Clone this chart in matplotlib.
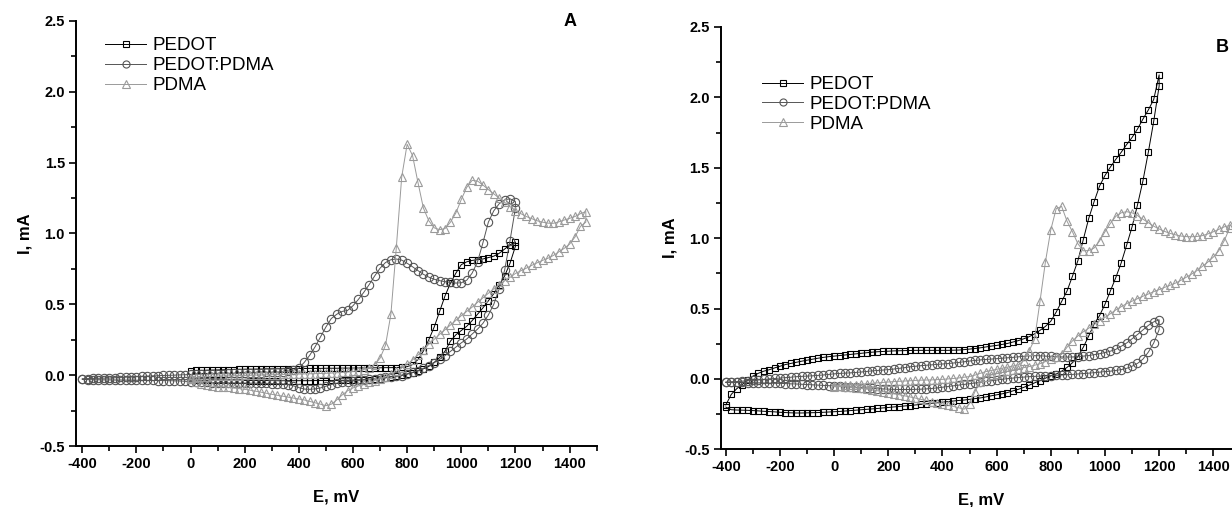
import matplotlib
matplotlib.use("Agg")
from matplotlib import pyplot as plt
from matplotlib.ticker import MultipleLocator, FormatStrFormatter

plt.rcParams['font.family'] = ['Liberation Sans', 'DejaVu Sans']
plt.rcParams['axes.unicode_minus'] = False

# potential grid of the sweeps (mV)
E_SCAN = [-400, -380, -360, -340, -320, -300, -280, -260, -240, -220,
          -200, -180, -160, -140, -120, -100, -80, -60, -40, -20,
          0, 20, 40, 60, 80, 100, 120, 140, 160, 180,
          200, 220, 240, 260, 280, 300, 320, 340, 360, 380,
          400, 420, 440, 460, 480, 500, 520, 540, 560, 580,
          600, 620, 640, 660, 680, 700, 720, 740, 760, 780,
          800, 820, 840, 860, 880, 900, 920, 940, 960, 980,
          1000, 1020, 1040, 1060, 1080, 1100, 1120, 1140, 1160, 1180,
          1200]
E_PDMA = [0, 20, 40, 60, 80, 100, 120, 140, 160, 180,
          200, 220, 240, 260, 280, 300, 320, 340, 360, 380,
          400, 420, 440, 460, 480, 500, 520, 540, 560, 580,
          600, 620, 640, 660, 680, 700, 720, 740, 760, 780,
          800, 820, 840, 860, 880, 900, 920, 940, 960, 980,
          1000, 1020, 1040, 1060, 1080, 1100, 1120, 1140, 1160, 1180,
          1200, 1220, 1240, 1260, 1280, 1300, 1320, 1340, 1360, 1380,
          1400, 1420, 1440, 1460]
E_PEDOT_A = E_SCAN[20:]   # PEDOT film in A was swept 0 .. 1200 mV

# ---- panel A, current (mA); fwd = anodic sweep, rev = cathodic sweep (listed by rising E)
A_pedot_fwd = [-0.035, -0.035, -0.036, -0.036, -0.036, -0.036, -0.037, -0.037, -0.037, -0.037,
               -0.037, -0.038, -0.038, -0.038, -0.038, -0.038, -0.039, -0.039, -0.039, -0.039,
               -0.039, -0.039, -0.039, -0.038, -0.038, -0.038, -0.037, -0.037, -0.036, -0.036,
               -0.035, -0.034, -0.033, -0.031, -0.028, -0.024, -0.019, -0.010, -0.005, 0.000,
               0.008, 0.018, 0.030, 0.045, 0.062, 0.090, 0.125, 0.170, 0.240, 0.285,
               0.315, 0.345, 0.385, 0.430, 0.475, 0.525, 0.575, 0.635, 0.700, 0.790,
               0.910]
A_pedot_rev = [0.032, 0.033, 0.034, 0.035, 0.036, 0.037, 0.038, 0.039, 0.040, 0.041,
               0.042, 0.042, 0.043, 0.043, 0.044, 0.044, 0.045, 0.045, 0.046, 0.046,
               0.047, 0.047, 0.048, 0.048, 0.048, 0.049, 0.049, 0.049, 0.050, 0.050,
               0.050, 0.051, 0.051, 0.051, 0.052, 0.052, 0.053, 0.053, 0.054, 0.056,
               0.060, 0.075, 0.110, 0.170, 0.250, 0.340, 0.450, 0.560, 0.650, 0.720,
               0.780, 0.800, 0.810, 0.815, 0.820, 0.830, 0.840, 0.860, 0.890, 0.920,
               0.940]
A_mix_fwd = [-0.025, -0.024, -0.023, -0.022, -0.021, -0.020, -0.018, -0.016, -0.014, -0.012,
             -0.010, -0.008, -0.007, -0.005, -0.004, -0.002, -0.001, 0.000, 0.002, 0.003,
             0.005, 0.006, 0.007, 0.008, 0.009, 0.010, 0.011, 0.012, 0.013, 0.014,
             0.015, 0.016, 0.017, 0.018, 0.019, 0.020, 0.022, 0.024, 0.028, 0.035,
             0.050, 0.090, 0.140, 0.200, 0.270, 0.340, 0.400, 0.430, 0.450, 0.457,
             0.490, 0.535, 0.585, 0.640, 0.700, 0.755, 0.795, 0.815, 0.820, 0.812,
             0.790, 0.765, 0.738, 0.712, 0.692, 0.677, 0.667, 0.660, 0.655, 0.650,
             0.652, 0.670, 0.720, 0.800, 0.935, 1.080, 1.160, 1.210, 1.238, 1.245,
             1.225]
A_mix_rev = [-0.030, -0.031, -0.032, -0.032, -0.033, -0.033, -0.034, -0.034, -0.035, -0.035,
             -0.036, -0.036, -0.037, -0.037, -0.038, -0.038, -0.039, -0.040, -0.041, -0.043,
             -0.045, -0.047, -0.049, -0.051, -0.052, -0.053, -0.054, -0.055, -0.055, -0.056,
             -0.056, -0.057, -0.057, -0.058, -0.058, -0.059, -0.060, -0.062, -0.066, -0.075,
             -0.088, -0.098, -0.100, -0.097, -0.090, -0.078, -0.066, -0.057, -0.050, -0.045,
             -0.040, -0.036, -0.032, -0.028, -0.024, -0.020, -0.016, -0.012, -0.008, -0.004,
             0.008, 0.020, 0.032, 0.048, 0.068, 0.088, 0.112, 0.138, 0.168, 0.198,
             0.228, 0.255, 0.290, 0.325, 0.366, 0.425, 0.500, 0.610, 0.740, 0.950,
             1.180]
A_pdma_fwd = [-0.020, -0.016, -0.013, -0.011, -0.009, -0.007, -0.006, -0.005, -0.004, -0.003,
              -0.002, -0.001, 0.000, 0.001, 0.002, 0.003, 0.004, 0.005, 0.006, 0.007,
              0.008, 0.009, 0.010, 0.011, 0.012, 0.013, 0.015, 0.017, 0.019, 0.022,
              0.026, 0.032, 0.040, 0.052, 0.075, 0.120, 0.210, 0.430, 0.900, 1.400,
              1.630, 1.550, 1.360, 1.180, 1.090, 1.040, 1.027, 1.035, 1.080, 1.145,
              1.240, 1.325, 1.375, 1.370, 1.342, 1.310, 1.280, 1.250, 1.220, 1.190,
              1.160, 1.140, 1.120, 1.105, 1.090, 1.080, 1.073, 1.072, 1.082, 1.095,
              1.107, 1.120, 1.140, 1.155]
A_pdma_rev = [-0.030, -0.045, -0.060, -0.070, -0.078, -0.080, -0.082, -0.085, -0.090, -0.095,
              -0.100, -0.106, -0.113, -0.120, -0.128, -0.135, -0.142, -0.148, -0.155, -0.162,
              -0.168, -0.175, -0.185, -0.195, -0.205, -0.215, -0.205, -0.175, -0.140, -0.110,
              -0.090, -0.076, -0.063, -0.050, -0.038, -0.025, -0.012, 0.005, 0.026, 0.050,
              0.076, 0.108, 0.142, 0.180, 0.218, 0.253, 0.288, 0.320, 0.355, 0.387,
              0.420, 0.450, 0.480, 0.514, 0.545, 0.578, 0.610, 0.640, 0.665, 0.690,
              0.718, 0.737, 0.755, 0.775, 0.793, 0.810, 0.825, 0.845, 0.870, 0.895,
              0.925, 0.975, 1.050, 1.080]

# ---- panel B
B_pedot_fwd = [-0.185, -0.110, -0.070, -0.040, -0.010, 0.020, 0.040, 0.055, 0.065, 0.078,
               0.090, 0.102, 0.110, 0.118, 0.126, 0.133, 0.140, 0.147, 0.153, 0.158,
               0.162, 0.166, 0.170, 0.174, 0.178, 0.182, 0.186, 0.190, 0.193, 0.195,
               0.197, 0.199, 0.200, 0.201, 0.202, 0.203, 0.203, 0.203, 0.203, 0.203,
               0.203, 0.203, 0.204, 0.205, 0.208, 0.212, 0.216, 0.221, 0.227, 0.233,
               0.238, 0.245, 0.252, 0.262, 0.272, 0.285, 0.300, 0.320, 0.345, 0.373,
               0.410, 0.475, 0.550, 0.625, 0.730, 0.840, 0.990, 1.140, 1.260, 1.370,
               1.445, 1.505, 1.560, 1.610, 1.665, 1.715, 1.775, 1.845, 1.910, 1.985,
               2.160]
B_pedot_rev = [-0.200, -0.219, -0.221, -0.222, -0.223, -0.225, -0.227, -0.230, -0.232, -0.234,
               -0.237, -0.239, -0.241, -0.242, -0.242, -0.241, -0.240, -0.239, -0.237, -0.235,
               -0.233, -0.231, -0.228, -0.225, -0.222, -0.219, -0.216, -0.213, -0.210, -0.206,
               -0.203, -0.199, -0.196, -0.192, -0.189, -0.185, -0.181, -0.177, -0.173, -0.169,
               -0.165, -0.161, -0.157, -0.153, -0.150, -0.145, -0.140, -0.135, -0.128, -0.120,
               -0.113, -0.106, -0.097, -0.085, -0.074, -0.060, -0.045, -0.028, -0.012, 0.005,
               0.022, 0.035, 0.055, 0.082, 0.115, 0.160, 0.225, 0.305, 0.390, 0.450,
               0.530, 0.625, 0.720, 0.825, 0.950, 1.080, 1.235, 1.405, 1.610, 1.830,
               2.080]
B_mix_fwd = [-0.025, -0.022, -0.020, -0.016, -0.013, -0.010, -0.007, -0.004, 0.000, 0.003,
             0.006, 0.009, 0.012, 0.016, 0.018, 0.020, 0.022, 0.025, 0.028, 0.032,
             0.036, 0.039, 0.041, 0.043, 0.046, 0.049, 0.053, 0.057, 0.060, 0.063,
             0.066, 0.070, 0.075, 0.080, 0.086, 0.090, 0.094, 0.097, 0.100, 0.103,
             0.106, 0.109, 0.113, 0.117, 0.122, 0.127, 0.131, 0.135, 0.138, 0.141,
             0.144, 0.147, 0.150, 0.153, 0.157, 0.161, 0.164, 0.165, 0.164, 0.162,
             0.160, 0.158, 0.156, 0.155, 0.156, 0.158, 0.162, 0.166, 0.172, 0.179,
             0.187, 0.197, 0.210, 0.232, 0.255, 0.285, 0.315, 0.348, 0.380, 0.405,
             0.420]
B_mix_rev = [-0.022, -0.023, -0.024, -0.025, -0.026, -0.027, -0.028, -0.029, -0.030, -0.031,
             -0.032, -0.033, -0.035, -0.036, -0.038, -0.040, -0.042, -0.044, -0.046, -0.048,
             -0.050, -0.052, -0.055, -0.057, -0.060, -0.062, -0.064, -0.067, -0.069, -0.071,
             -0.073, -0.074, -0.075, -0.075, -0.075, -0.074, -0.073, -0.071, -0.068, -0.064,
             -0.059, -0.054, -0.049, -0.044, -0.039, -0.034, -0.029, -0.024, -0.018, -0.013,
             -0.008, -0.003, 0.002, 0.006, 0.010, 0.013, 0.016, 0.018, 0.020, 0.022,
             0.024, 0.026, 0.028, 0.030, 0.032, 0.035, 0.038, 0.041, 0.044, 0.048,
             0.052, 0.055, 0.060, 0.066, 0.075, 0.090, 0.110, 0.140, 0.190, 0.255,
             0.350]
B_pdma_fwd = [-0.055, -0.050, -0.046, -0.043, -0.040, -0.037, -0.034, -0.031, -0.028, -0.025,
              -0.022, -0.019, -0.017, -0.015, -0.013, -0.011, -0.009, -0.008, -0.007, -0.005,
              -0.003, 0.000, 0.003, 0.007, 0.012, 0.017, 0.027, 0.040, 0.052, 0.060,
              0.068, 0.076, 0.084, 0.092, 0.100, 0.130, 0.200, 0.280, 0.550, 0.830,
              1.060, 1.210, 1.225, 1.120, 1.045, 0.960, 0.910, 0.912, 0.930, 0.980,
              1.045, 1.105, 1.155, 1.180, 1.188, 1.180, 1.160, 1.135, 1.110, 1.085,
              1.065, 1.048, 1.034, 1.024, 1.015, 1.011, 1.010, 1.012, 1.018, 1.030,
              1.045, 1.062, 1.080, 1.090]
B_pdma_rev = [-0.050, -0.052, -0.055, -0.058, -0.063, -0.067, -0.072, -0.078, -0.084, -0.090,
              -0.097, -0.104, -0.112, -0.120, -0.128, -0.136, -0.145, -0.153, -0.162, -0.170,
              -0.178, -0.187, -0.195, -0.205, -0.215, -0.175, -0.090, -0.020, 0.015, 0.028,
              0.038, 0.046, 0.055, 0.064, 0.072, 0.080, 0.088, 0.097, 0.108, 0.123,
              0.140, 0.155, 0.175, 0.225, 0.270, 0.305, 0.335, 0.360, 0.387, 0.413,
              0.437, 0.463, 0.490, 0.513, 0.535, 0.552, 0.570, 0.587, 0.603, 0.620,
              0.635, 0.650, 0.665, 0.680, 0.700, 0.722, 0.745, 0.770, 0.800, 0.830,
              0.865, 0.910, 0.980, 1.070]

LABELS = ['PEDOT', 'PEDOT:PDMA', 'PDMA']
MARKERS = ['s', 'o', '^']
COLORS = ['#000000', '#555555', '#9a9a9a']
MSIZES = [4.8, 6.0, 6.4]


def cycle(E, fwd, rev):
    # anodic sweep up, then cathodic sweep back down
    return list(E) + list(E)[::-1], list(fwd) + list(rev)[::-1]


def draw_panel(ax, curves, legend_xy):
    handles = []
    for (E, fwd, rev), lab, mk, col, ms in zip(curves, LABELS, MARKERS, COLORS, MSIZES):
        x, y = cycle(E, fwd, rev)
        h, = ax.plot(x, y, color=col, lw=0.7, marker=mk, ms=ms, mfc='none',
                     mec=col, mew=0.8, label=lab)
        handles.append(h)
    ax.set_xlim(-423, 1500)
    ax.set_ylim(-0.5, 2.5)
    ax.xaxis.set_major_locator(MultipleLocator(200))
    ax.xaxis.set_minor_locator(MultipleLocator(100))
    ax.yaxis.set_major_locator(MultipleLocator(0.5))
    ax.yaxis.set_minor_locator(MultipleLocator(0.25))
    ax.yaxis.set_major_formatter(FormatStrFormatter('%.1f'))
    for s in ['top', 'right']:
        ax.spines[s].set_visible(False)
    for s in ['left', 'bottom']:
        ax.spines[s].set_linewidth(1.4)
    ax.tick_params(which='major', direction='out', length=5, width=1.2, labelsize=10.5, pad=3)
    ax.tick_params(which='minor', direction='out', length=3.4, width=1.2)
    for t in ax.get_xticklabels() + ax.get_yticklabels():
        t.set_fontweight('bold')
    ax.set_xlabel('E, mV', fontsize=12, fontweight='bold', labelpad=13)
    ax.set_ylabel('I, mA', fontsize=12, fontweight='bold', labelpad=5)
    ax.legend(handles=handles, loc='upper left', bbox_to_anchor=legend_xy, frameon=False,
              fontsize=13.5, numpoints=1, handlelength=2.2, handletextpad=0.32,
              labelspacing=0.15, borderpad=0, borderaxespad=0, markerscale=0.85)


fig = plt.figure(figsize=(12.32, 5.07), dpi=100)
axA = fig.add_axes([0.0617, 0.1203, 0.4226, 0.8383])
axB = fig.add_axes([0.5852, 0.1138, 0.4216, 0.8330])

draw_panel(axA, [(E_PEDOT_A, A_pedot_fwd, A_pedot_rev),
                 (E_SCAN, A_mix_fwd, A_mix_rev),
                 (E_PDMA, A_pdma_fwd, A_pdma_rev)], (0.056, 0.962))
draw_panel(axB, [(E_SCAN, B_pedot_fwd, B_pedot_rev),
                 (E_SCAN, B_mix_fwd, B_mix_rev),
                 (E_PDMA, B_pdma_fwd, B_pdma_rev)], (0.079, 0.884))
axB.set_xlim(-418, 1500)

fig.text(570 / 1232, 1 - 22 / 507, 'A', fontsize=13, fontweight='bold', ha='center', va='center')
fig.text(1222 / 1232, 1 - 48 / 507, 'B', fontsize=13, fontweight='bold', ha='center', va='center')

fig.savefig('out.png', dpi=100)
